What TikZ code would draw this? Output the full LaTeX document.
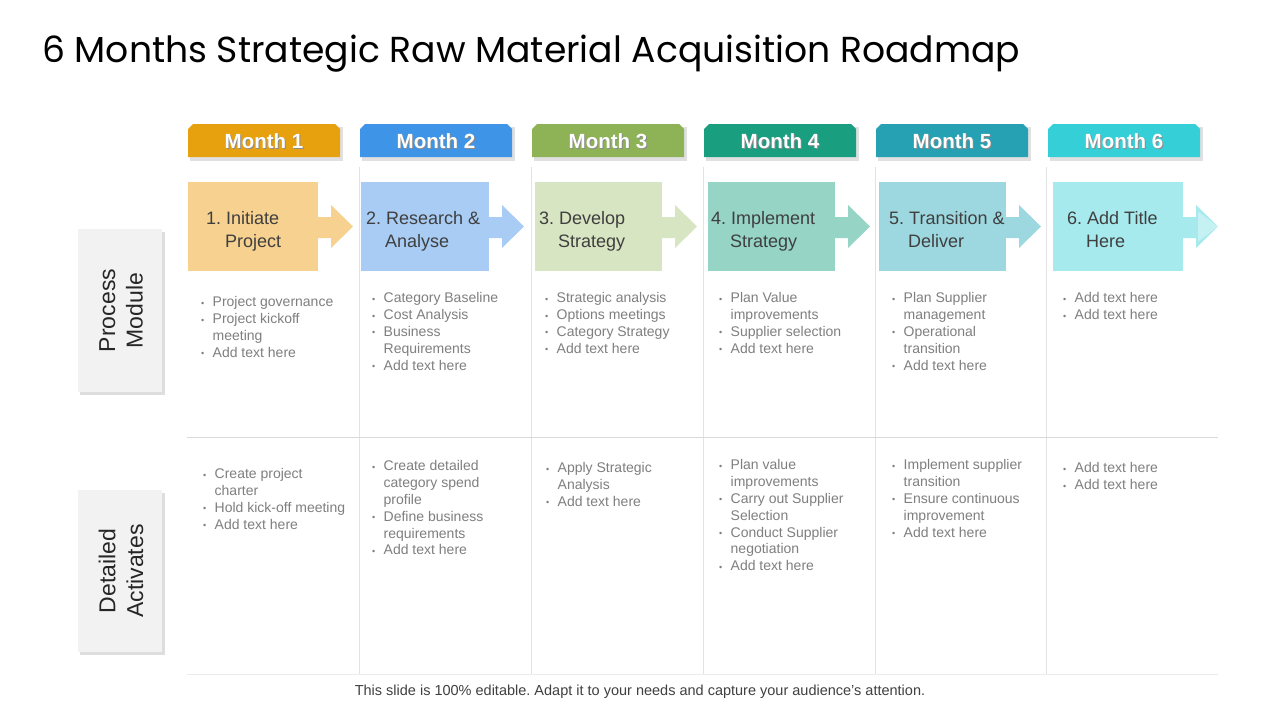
\documentclass[tikz,border=0pt]{standalone}
\usepackage{fontspec}
\setmainfont{Liberation Sans}
\newfontfamily\titlefont{Poppins}
\definecolor{mA}{HTML}{E8A10E}
\definecolor{mB}{HTML}{3E94E6}
\definecolor{mC}{HTML}{8DB356}
\definecolor{mD}{HTML}{1A9E80}
\definecolor{mE}{HTML}{26A1B4}
\definecolor{mF}{HTML}{35CFD7}
\definecolor{pA}{HTML}{F6D18F}
\definecolor{pB}{HTML}{A8CCF4}
\definecolor{pC}{HTML}{D7E5C2}
\definecolor{pD}{HTML}{96D4C6}
\definecolor{pE}{HTML}{9DD7DF}
\definecolor{pF}{HTML}{A7EAEE}
\definecolor{ptxt}{HTML}{3F3F3F}
\definecolor{btxt}{HTML}{7F7F7F}
\definecolor{gridc}{HTML}{E3E3E3}
\definecolor{labbg}{HTML}{F2F2F2}
\newcommand{\bu}{\makebox[11.5pt][l]{\fontsize{9}{9}\selectfont\raisebox{0.5pt}{•}}}
\newcommand{\ind}{\hspace*{11.5pt}}
\newcommand{\monthhdr}[3]{%
  \fill[black!12] (#1+2,127) rectangle (#1+155,161);
  \fill[#2] (#1,157) -- (#1,129) -- (#1+5,124) -- (#1+147,124) -- (#1+152,129) -- (#1+152,157) -- cycle;
  \node[hdrshadow] at (#1+77,142.2) {Month #3};
  \node[hdrtext] (month#3) at (#1+76,141) {Month #3};
}
\newcommand{\procbox}[4]{%
  \fill[#3] (#1,182) rectangle (#2,271);
  \fill[#3] (#2,217) -- (#2+13,217) -- (#2+13,205) -- (#2+35,226.5) -- (#2+13,248) -- (#2+13,238) -- (#2,238) -- cycle;
}
\frenchspacing
\begin{document}
\frenchspacing
\begin{tikzpicture}[x=1pt,y=-1pt,
  hdrtext/.style={text=white,font=\fontsize{20.5}{24}\selectfont\bfseries,inner sep=0pt},
  hdrshadow/.style={text=black!45,font=\fontsize{20.5}{24}\selectfont\bfseries,inner sep=0pt},
  ptext/.style={text=ptxt,font=\fontsize{18}{23}\selectfont,align=left,inner sep=0pt,anchor=north west},
  blist/.style={text=btxt,font=\fontsize{14}{16.8}\selectfont,align=left,inner sep=0pt,anchor=north west},
  gline/.style={draw=gridc,line width=1pt},
  labtext/.style={text=black!85,font=\fontsize{23}{27.6}\selectfont,align=center,rotate=90,inner sep=0pt}]
\useasboundingbox (0,0) rectangle (1280,720);
\fill[white] (0,0) rectangle (1280,720);

% title
\node[anchor=base west,inner sep=0pt] (title) at (42,62) {\resizebox{978pt}{!}{\titlefont 6 Months Strategic Raw Material Acquisition Roadmap}};

% grid
\foreach \x/\n in {359/a,531/b,703/c,875/d,1046/e} {
  \coordinate (vt\n) at (\x,167);
  \coordinate (vb\n) at (\x,674);
  \draw[gline] (vt\n) -- (vb\n);
}
\coordinate (hl) at (187,437); \coordinate (hr) at (1218,437);
\draw[draw=black!15,line width=1pt] (hl) -- (hr);
\coordinate (bl) at (187,674); \coordinate (br) at (1218,674);
\draw[draw=black!8,line width=1pt] (bl) -- (br);

% headers
\monthhdr{188}{mA}{1}
\monthhdr{360}{mB}{2}
\monthhdr{532}{mC}{3}
\monthhdr{704}{mD}{4}
\monthhdr{876}{mE}{5}
\monthhdr{1048}{mF}{6}

% process boxes
\procbox{188}{318}{pA}{1}
\procbox{361}{489}{pB}{2}
\procbox{535}{662}{pC}{3}
\procbox{708}{835}{pD}{4}
\procbox{879}{1006}{pE}{5}
\procbox{1053}{1183}{pF}{6}
\fill[white,opacity=0.35] (1198,211.5) -- (1218,226.5) -- (1198,241.5) -- cycle;

\node[ptext] (p1) at (206,211.5) {1. Initiate\\\hspace*{19pt}Project};
\node[ptext] (p2) at (366,211.5) {2. Research \&\\\hspace*{19pt}Analyse};
\node[ptext] (p3) at (539,211.5) {3. Develop\\\hspace*{19pt}Strategy};
\node[ptext] (p4) at (711,211.5) {4. Implement\\\hspace*{19pt}Strategy};
\node[ptext] (p5) at (889,211.5) {5. Transition \&\\\hspace*{19pt}Deliver};
\node[ptext] (p6) at (1067,211.5) {6. Add Title\\\hspace*{19pt}Here};

% row 1 bullets
\node[blist] (r1c1) at (201,296.5) {\bu Project governance\\\bu Project kickoff\\\ind meeting\\\bu Add text here};
\node[blist] (r1c2) at (372,292.5) {\bu Category Baseline\\\bu Cost Analysis\\\bu Business\\\ind Requirements\\\bu Add text here};
\node[blist] (r1c3) at (545,292.5) {\bu Strategic analysis\\\bu Options meetings\\\bu Category Strategy\\\bu Add text here};
\node[blist] (r1c4) at (719,292.5) {\bu Plan Value\\\ind improvements\\\bu Supplier selection\\\bu Add text here};
\node[blist] (r1c5) at (892,292.5) {\bu Plan Supplier\\\ind management\\\bu Operational\\\ind transition\\\bu Add text here};
\node[blist] (r1c6) at (1063,292.5) {\bu Add text here\\\bu Add text here};

% row 2 bullets
\node[blist] (r2c1) at (203,468.5) {\bu Create project\\\ind charter\\\bu Hold kick-off meeting\\\bu Add text here};
\node[blist] (r2c2) at (372,460.5) {\bu Create detailed\\\ind category spend\\\ind profile\\\bu Define business\\\ind requirements\\\bu Add text here};
\node[blist] (r2c3) at (546,462.5) {\bu Apply Strategic\\\ind Analysis\\\bu Add text here};
\node[blist] (r2c4) at (719,459.5) {\bu Plan value\\\ind improvements\\\bu Carry out Supplier\\\ind Selection\\\bu Conduct Supplier\\\ind negotiation\\\bu Add text here};
\node[blist] (r2c5) at (892,459.5) {\bu Implement supplier\\\ind transition\\\bu Ensure continuous\\\ind improvement\\\bu Add text here};
\node[blist] (r2c6) at (1063,462.5) {\bu Add text here\\\bu Add text here};

% left labels
\fill[black!13] (80,232) rectangle (165,395);
\fill[labbg] (78,229) rectangle (162,392);
\node[labtext] (lab1) at (121,310.5) {Process\\Module};
\fill[black!13] (80,493) rectangle (165,655);
\fill[labbg] (78,490) rectangle (162,652);
\node[labtext] (lab2) at (121,571) {Detailed\\Activates};

% footer
\node[text=black!75,font=\fontsize{14.5}{16}\selectfont,inner sep=0pt] (foot) at (640,692) {This slide is 100\% editable. Adapt it to your needs and capture your audience's attention.};
\end{tikzpicture}
\end{document}
